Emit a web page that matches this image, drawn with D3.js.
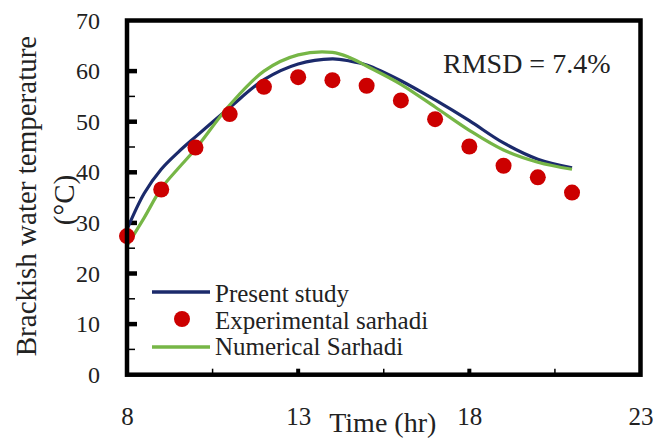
<!DOCTYPE html>
<html>
<head>
<meta charset="utf-8">
<script src="https://cdn.jsdelivr.net/npm/d3@7"></script>
<style>
  html, body { margin: 0; padding: 0; background: #fff; }
  svg text { font-family: "Liberation Serif", "Times New Roman", serif; fill: #222; }
</style>
</head>
<body>
<svg id="chart" width="653" height="439"></svg>
<script>
// Brackish water temperature over the day
const modelHours = [8, 8.5, 9, 9.5, 10, 11, 12, 13, 14, 14.5, 15, 16, 17, 18, 19, 20, 21];
const presentStudy = [28.7, 35.8, 40.6, 44, 47, 52.8, 58.3, 61.4, 62.4, 62, 61.2, 58.1, 54.3, 50.2, 45.8, 42.6, 40.9];
const numericalSarhadi = [25.5, 31, 36.8, 40.8, 44.6, 53.3, 60, 63.2, 63.7, 62.7, 61, 57.4, 52.9, 48.3, 44.4, 42, 40.6];

const expHours = [8, 9, 10, 11, 12, 13, 14, 15, 16, 17, 18, 19, 20, 21];
const experimentalSarhadi = [27.4, 36.6, 44.9, 51.5, 56.9, 58.8, 58.2, 57.1, 54.2, 50.5, 45.1, 41.3, 39.0, 36.0];

const xMajorTicks = [8, 13, 18, 23];
const xMinorTicks = [10.5, 15.5, 20.5];
const yMajorTicks = [0, 10, 20, 30, 40, 50, 60, 70];
const yMinorTicks = [5, 15, 25, 35, 45, 55];

const seriesNames = ["Present study", "Experimental sarhadi", "Numerical Sarhadi"];
const colors = { present: "#1b2a6b", exp: "#cc0000", num: "#76b646" };

const svg = d3.select("#chart");
const plotLeft = 127, plotRight = 640.5, plotTop = 20.5, plotBottom = 374.7;

const x = d3.scaleLinear().domain([8, 23]).range([plotLeft, plotRight]);
const y = d3.scaleLinear().domain([0, 70]).range([plotBottom, plotTop]);

// Tick labels
const yAxis = d3.axisLeft(y).tickValues(yMajorTicks).tickSize(0).tickPadding(27);
svg.append("g").attr("transform", `translate(${plotLeft},0)`).call(yAxis)
  .call(g => g.select(".domain").remove())
  .selectAll("text").style("font-size", "24px").attr("fill", "#222");

const xAxis = d3.axisBottom(x).tickValues(xMajorTicks).tickSize(0).tickPadding(32.5);
svg.append("g").attr("transform", `translate(0,${plotBottom})`).call(xAxis)
  .call(g => g.select(".domain").remove())
  .selectAll("text").style("font-size", "25px").attr("fill", "#222");

// Inward tick marks
svg.append("g").selectAll("line").data(yMajorTicks.filter(d => d > 0 && d < 70)).join("line")
  .attr("x1", plotLeft).attr("x2", plotLeft + 10)
  .attr("y1", d => y(d)).attr("y2", d => y(d))
  .attr("stroke", "#000").attr("stroke-width", 4.5);
svg.append("g").selectAll("line").data(yMinorTicks).join("line")
  .attr("x1", plotLeft).attr("x2", plotLeft + 8)
  .attr("y1", d => y(d)).attr("y2", d => y(d))
  .attr("stroke", "#000").attr("stroke-width", 1.5);
svg.append("g").selectAll("line").data(xMajorTicks.filter(d => d > 8 && d < 23)).join("line")
  .attr("x1", d => x(d)).attr("x2", d => x(d))
  .attr("y1", plotBottom).attr("y2", plotBottom - 6)
  .attr("stroke", "#000").attr("stroke-width", 4);
svg.append("g").selectAll("line").data(xMinorTicks).join("line")
  .attr("x1", d => x(d)).attr("x2", d => x(d))
  .attr("y1", plotBottom).attr("y2", plotBottom - 6)
  .attr("stroke", "#000").attr("stroke-width", 1.5);

// Curves
const line = d3.line().x(d => x(d[0])).y(d => y(d[1])).curve(d3.curveCatmullRom.alpha(0.5));
svg.append("path").datum(d3.zip(modelHours, presentStudy))
  .attr("d", line).attr("fill", "none").attr("stroke", colors.present).attr("stroke-width", 3.2);
svg.append("path").datum(d3.zip(modelHours, numericalSarhadi))
  .attr("d", line).attr("fill", "none").attr("stroke", colors.num).attr("stroke-width", 3.2);

svg.append("g").selectAll("circle").data(d3.zip(expHours, experimentalSarhadi)).join("circle")
  .attr("cx", d => x(d[0])).attr("cy", d => y(d[1])).attr("r", 8)
  .attr("fill", colors.exp);

// Frame
svg.append("rect").attr("x", plotLeft).attr("y", plotTop)
  .attr("width", plotRight - plotLeft).attr("height", plotBottom - plotTop)
  .attr("fill", "none").attr("stroke", "#000").attr("stroke-width", 4.5);

// Axis titles
svg.append("text").attr("x", (plotLeft + plotRight) / 2 - 1).attr("y", 432)
  .attr("text-anchor", "middle").style("font-size", "28px").text("Time (hr)");
svg.append("text").attr("transform", "translate(36,196) rotate(-90)")
  .attr("text-anchor", "middle").style("font-size", "29px").text("Brackish water temperature");
svg.append("text").attr("transform", "translate(74,200) rotate(-90)")
  .attr("text-anchor", "middle").style("font-size", "29px").text("(°C)");

// Annotation
svg.append("text").attr("x", 443).attr("y", 73).style("font-size", "28px").text("RMSD = 7.4%");

// Legend
const lg = svg.append("g");
lg.append("line").attr("x1", 152).attr("x2", 210).attr("y1", 292).attr("y2", 292)
  .attr("stroke", colors.present).attr("stroke-width", 3.5);
lg.append("circle").attr("cx", 182).attr("cy", 319).attr("r", 8).attr("fill", colors.exp);
lg.append("line").attr("x1", 152).attr("x2", 210).attr("y1", 347).attr("y2", 347)
  .attr("stroke", colors.num).attr("stroke-width", 3.5);
lg.selectAll("text").data(seriesNames).join("text")
  .attr("x", 215).attr("y", (d, i) => 302 + i * 26.5)
  .style("font-size", "25px").text(d => d);
</script>
</body>
</html>
